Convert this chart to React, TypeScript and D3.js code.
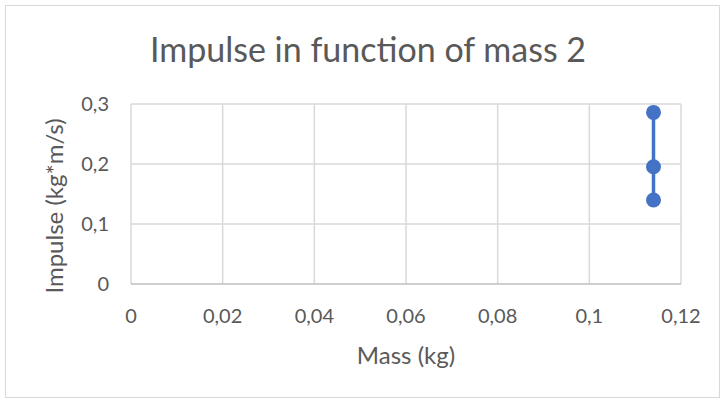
import * as d3 from "d3";

const masses = [0.114, 0.114, 0.114];
const impulses = [0.286, 0.1955, 0.14];
const xTicks = [0, 0.02, 0.04, 0.06, 0.08, 0.1, 0.12];
const yTicks = [0, 0.1, 0.2, 0.3];

const W = 725;
const H = 403;
const m = { left: 131, right: 44, top: 104, bottom: 119 };
const font = "Lato, 'Open Sans', sans-serif";
const textColor = "#595959";

export default function App() {
	const x = d3.scaleLinear().domain([0, 0.12]).range([m.left, W - m.right]);
	const y = d3.scaleLinear().domain([0, 0.3]).range([H - m.bottom, m.top]);
	const fmt = (v: number) => String(+v.toFixed(2)).replace(".", ",");
	const pts = masses.map((d, i) => [x(d), y(impulses[i])] as [number, number]);
	const line = d3.line();

	return (
		<svg
			width={W}
			height={H}
			style={{ position: "absolute", left: 0, top: 0, background: "#fff" }}
		>
			<rect x={5.5} y={5.5} width={W - 11} height={H - 11} fill="#fff" stroke="#d9d9d9" />
			<text x={368} y={62} textAnchor="middle" fontFamily={font} fontSize={34} fill={textColor}>
				Impulse in function of mass 2
			</text>
			{xTicks.map((t) => (
				<line key={"gx" + t} x1={x(t)} x2={x(t)} y1={y(0)} y2={y(0.3)} stroke="#d9d9d9" strokeWidth={1.5} />
			))}
			{yTicks.map((t) => (
				<line key={"gy" + t} x1={x(0)} x2={x(0.12)} y1={y(t)} y2={y(t)} stroke={t === 0 ? "#bfbfbf" : "#d9d9d9"} strokeWidth={1.5} />
			))}
			{yTicks.map((t) => (
				<text key={"ty" + t} x={109} y={y(t)} dy="0.35em" textAnchor="end" fontFamily={font} fontSize={20} fill={textColor}>
					{fmt(t)}
				</text>
			))}
			{xTicks.map((t) => (
				<text key={"tx" + t} x={x(t)} y={316} dy="0.35em" textAnchor="middle" fontFamily={font} fontSize={20} fill={textColor}>
					{fmt(t)}
				</text>
			))}
			<text x={406} y={356} dy="0.35em" textAnchor="middle" fontFamily={font} fontSize={24} fill={textColor}>
				Mass (kg)
			</text>
			<text
				transform={`translate(55,${(y(0) + y(0.3)) / 2 + 12}) rotate(-90)`}
				dy="0.35em"
				textAnchor="middle"
				fontFamily={font}
				fontSize={24}
				fill={textColor}
			>
				Impulse (kg*m/s)
			</text>
			<path d={line(pts) ?? ""} fill="none" stroke="#4472c4" strokeWidth={3.5} />
			{pts.map((p, i) => (
				<circle key={i} cx={p[0]} cy={p[1]} r={7.5} fill="#4472c4" />
			))}
		</svg>
	);
}
